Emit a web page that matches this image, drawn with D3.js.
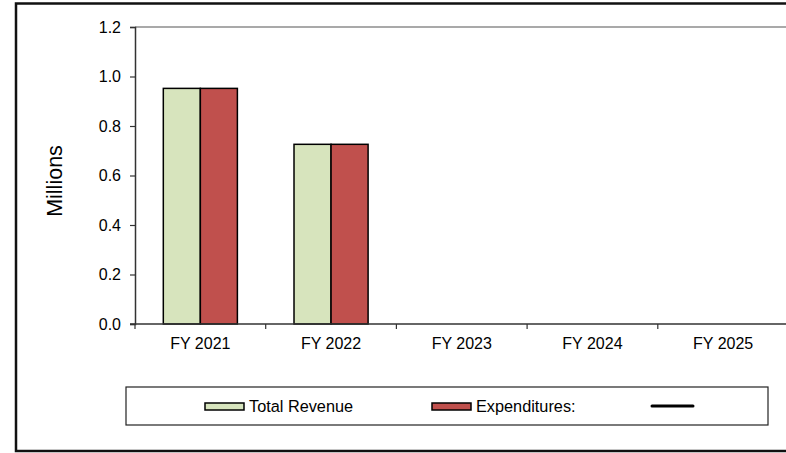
<!DOCTYPE html>
<html>
<head>
<meta charset="utf-8">
<script src="https://cdn.jsdelivr.net/npm/d3@7"></script>
<style>
  html, body { margin: 0; padding: 0; background: #fff; }
  svg { display: block; font-family: Arial, "Liberation Sans", sans-serif; }
</style>
</head>
<body>
<svg id="chart" width="786" height="453"></svg>
<script>
// Fiscal years along the x axis
const categories = ["FY 2021", "FY 2022", "FY 2023", "FY 2024", "FY 2025"];
// Series values in millions (null = no data yet)
const totalRevenue = [0.952, 0.726, null, null, null];
const expenditures = [0.952, 0.726, null, null, null];
const seriesNames = ["Total Revenue", "Expenditures:"];
const seriesColors = ["#d7e4bd", "#c0504d"];
const yTicks = [0, 0.2, 0.4, 0.6, 0.8, 1.0, 1.2];

const svg = d3.select("#chart");

// Outer frame (extends past the right edge)
svg.append("rect")
  .attr("x", 16).attr("y", 3.5)
  .attr("width", 800).attr("height", 447.5)
  .attr("fill", "none").attr("stroke", "#111").attr("stroke-width", 2.5);

const plot = { left: 135, top: 27, right: 788.5, bottom: 324 };

const x = d3.scaleBand().domain(categories).range([plot.left, plot.right]).padding(0);
const y = d3.scaleLinear().domain([0, 1.2]).range([plot.bottom, plot.top]);
const bw = x.bandwidth();
const xs = d3.scaleBand().domain(seriesNames)
  .range([bw * 0.2166, bw * 0.7834]).padding(0);

// Plot area top border
svg.append("line")
  .attr("x1", plot.left).attr("x2", plot.right)
  .attr("y1", plot.top).attr("y2", plot.top)
  .attr("stroke", "#8c8c8c").attr("stroke-width", 1.5);

// Bars
const rows = categories.map((c, i) => ({ cat: c, vals: [totalRevenue[i], expenditures[i]] }));
const groups = svg.append("g").selectAll("g").data(rows).join("g")
  .attr("transform", d => `translate(${x(d.cat)},0)`);
groups.selectAll("rect")
  .data(d => d.vals.map((v, j) => ({ v, name: seriesNames[j], color: seriesColors[j] }))
    .filter(e => e.v != null))
  .join("rect")
  .attr("x", e => xs(e.name))
  .attr("width", xs.bandwidth())
  .attr("y", e => y(e.v))
  .attr("height", e => y(0) - y(e.v))
  .attr("fill", e => e.color)
  .attr("stroke", "#000").attr("stroke-width", 1.5);

// Y axis
const yAxis = svg.append("g")
  .attr("transform", `translate(${plot.left},0)`)
  .call(d3.axisLeft(y).tickValues(yTicks).tickFormat(d3.format(".1f")).tickSizeOuter(0).tickSize(5).tickPadding(9));
yAxis.select(".domain").attr("stroke", "#333").attr("stroke-width", 1.5);
yAxis.selectAll(".tick line").attr("stroke", "#333").attr("stroke-width", 1.2);
yAxis.selectAll("text").attr("font-size", 16).attr("fill", "#000")
  .attr("font-family", "Arial, 'Liberation Sans', sans-serif");

// X axis: ticks at band boundaries
const xAxisG = svg.append("g").attr("transform", `translate(0,${plot.bottom})`);
xAxisG.append("line")
  .attr("x1", plot.left - 5).attr("x2", plot.right)
  .attr("stroke", "#333").attr("stroke-width", 1.5);
const bounds = categories.map(c => x(c));
xAxisG.selectAll("line.tk").data(bounds).join("line").attr("class", "tk")
  .attr("x1", d => d).attr("x2", d => d).attr("y1", 0).attr("y2", 5)
  .attr("stroke", "#333").attr("stroke-width", 1.2);
xAxisG.selectAll("text").data(categories).join("text")
  .attr("x", d => x(d) + bw / 2).attr("y", 25)
  .attr("text-anchor", "middle").attr("font-size", 16).attr("fill", "#000")
  .text(d => d);

// Y axis title
svg.append("text")
  .attr("transform", "translate(62,181) rotate(-90)")
  .attr("text-anchor", "middle").attr("font-size", 21.5).attr("fill", "#000")
  .text("Millions");

// Legend
const lg = svg.append("g");
lg.append("rect")
  .attr("x", 126).attr("y", 387).attr("width", 642).attr("height", 38)
  .attr("fill", "#fff").attr("stroke", "#222").attr("stroke-width", 1.2);
const legendItems = [
  { name: seriesNames[0], color: seriesColors[0], x: 205 },
  { name: seriesNames[1], color: seriesColors[1], x: 432 }
];
legendItems.forEach(it => {
  lg.append("rect")
    .attr("x", it.x).attr("y", 403).attr("width", 39).attr("height", 7)
    .attr("fill", it.color).attr("stroke", "#000").attr("stroke-width", 1.5);
  lg.append("text")
    .attr("x", it.x + 44).attr("y", 412)
    .attr("font-size", 16.3).attr("fill", "#000")
    .text(it.name);
});
lg.append("line")
  .attr("x1", 652).attr("x2", 693).attr("y1", 406).attr("y2", 406)
  .attr("stroke", "#000").attr("stroke-width", 3).attr("stroke-linecap", "round");
</script>
</body>
</html>
